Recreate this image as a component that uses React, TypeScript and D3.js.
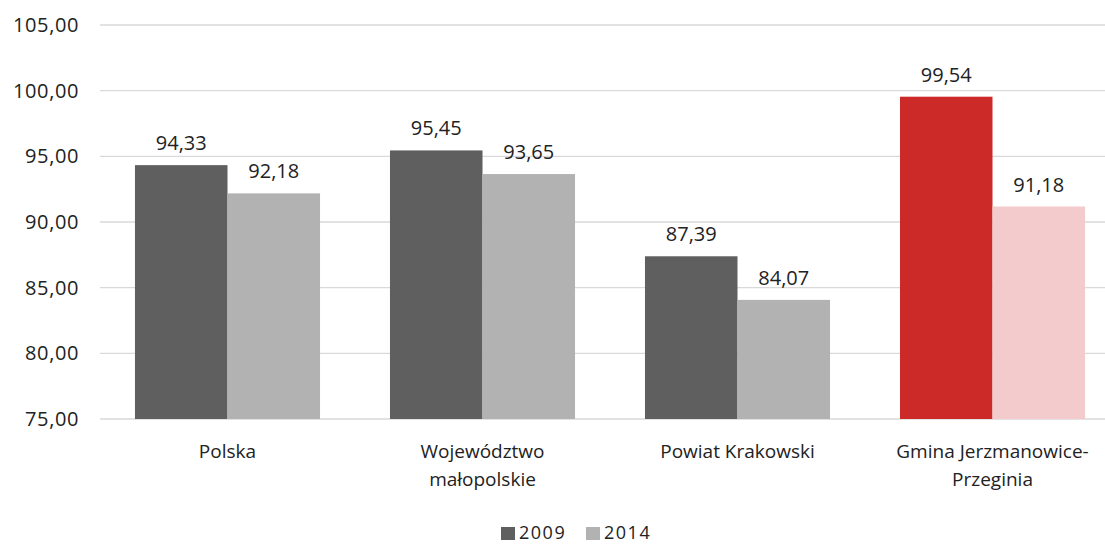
import React from "react";
import * as d3 from "d3";

const categories: string[][] = [
  ["Polska"],
  ["Województwo", "małopolskie"],
  ["Powiat Krakowski"],
  ["Gmina Jerzmanowice-", "Przeginia"],
];
const series = ["2009", "2014"];
const values2009 = [94.33, 95.45, 87.39, 99.54];
const values2014 = [92.18, 93.65, 84.07, 91.18];
const yTicks = [75, 80, 85, 90, 95, 100, 105];

const W = 1105;
const H = 544;
const FONT = "'Open Sans', 'Noto Sans', sans-serif";
const colors = { s2009: "#5f5f5f", s2014: "#b2b2b2", hi2009: "#cc2929", hi2014: "#f3cbcc" };

export default function App() {
  const x = d3.scaleBand<number>().domain(d3.range(categories.length)).range([100, 1120]).paddingInner(0).paddingOuter(0);
  const inner = d3.scaleBand<string>().domain(series).range([0, x.bandwidth()]).paddingOuter(0.378).paddingInner(0);
  const y = d3.scaleLinear().domain([75, 105]).range([419, 25]);
  const fmt = (v: number) => d3.format(".2f")(v).replace(".", ",");
  const data = [values2009, values2014];

  return (
    <svg width={W} height={H} style={{ position: "absolute", left: 0, top: 0, background: "#fff" }} fontFamily={FONT}>
      {yTicks.map((t) => (
        <g key={t}>
          <line x1={100} x2={W} y1={y(t)} y2={y(t)} stroke="#d9d9d9" strokeWidth={1.3} />
          <text x={79} y={y(t)} dy="0.35em" textAnchor="end" fontSize={20} letterSpacing={0.6} fill="#222">
            {fmt(t)}
          </text>
        </g>
      ))}
      {categories.map((c, i) =>
        series.map((s, j) => {
          const v = data[j][i];
          const bx = (x(i) as number) + (inner(s) as number);
          const bw = inner.bandwidth();
          const hi = i === 3;
          const fill = hi ? (j === 0 ? colors.hi2009 : colors.hi2014) : j === 0 ? colors.s2009 : colors.s2014;
          return (
            <g key={`${i}-${s}`}>
              <rect x={bx} y={y(v)} width={bw} height={y(75) - y(v)} fill={fill} />
              <text x={bx + bw / 2} y={y(v) - 15} textAnchor="middle" fontSize={20} fill="#222">
                {fmt(v)}
              </text>
            </g>
          );
        })
      )}
      {categories.map((c, i) => (
        <text key={i} x={(x(i) as number) + x.bandwidth() / 2} y={458} textAnchor="middle" fontSize={19} fill="#222">
          {c.map((line, k) => (
            <tspan key={k} x={(x(i) as number) + x.bandwidth() / 2} dy={k === 0 ? 0 : 28}>
              {line}
            </tspan>
          ))}
        </text>
      ))}
      <g>
        <rect x={501} y={527} width={14} height={13} fill={colors.s2009} />
        <text x={519} y={539} fontSize={18} letterSpacing={1.5} fill="#222">2009</text>
        <rect x={586} y={527} width={14} height={13} fill={colors.s2014} />
        <text x={604} y={539} fontSize={18} letterSpacing={1.5} fill="#222">2014</text>
      </g>
    </svg>
  );
}
